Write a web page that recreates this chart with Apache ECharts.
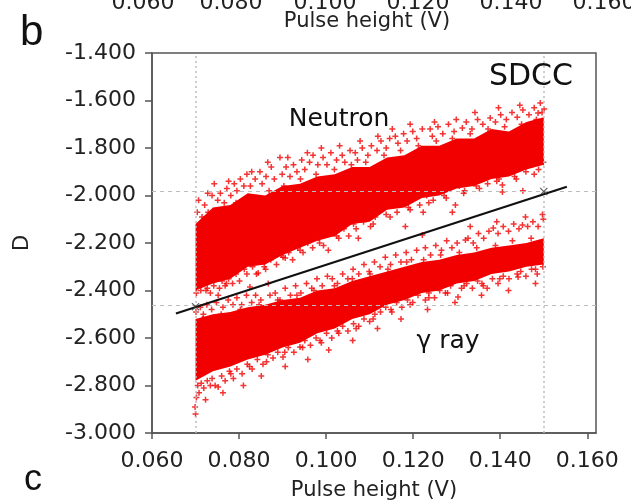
<!DOCTYPE html>
<html><head><meta charset="utf-8">
<script src="https://cdn.jsdelivr.net/npm/echarts@6/dist/echarts.min.js"></script>
<style>html,body{margin:0;padding:0;background:#fff}#c{width:631px;height:502px}</style>
</head><body><div id="c"></div>
<script>
// ---- data ----
const xTickLabels = [0.060, 0.080, 0.100, 0.120, 0.140, 0.160];
const yTickLabels = [-3.0, -2.8, -2.6, -2.4, -2.2, -2.0, -1.8, -1.6, -1.4];
const prevPanelTicks = ['0.060', '0.080', '0.100', '0.120', '0.140', '0.160'];

// dense cores of the two clusters (upper/lower envelope per pulse height)
const bandX = [0.070,0.074,0.078,0.082,0.086,0.090,0.094,0.098,0.102,0.106,0.110,0.114,0.118,0.122,0.126,0.130,0.134,0.138,0.142,0.146,0.150];
const neutronUpper = [-2.12,-2.05,-2.04,-1.99,-2.00,-1.96,-1.95,-1.92,-1.91,-1.88,-1.88,-1.84,-1.83,-1.79,-1.79,-1.76,-1.76,-1.72,-1.73,-1.69,-1.67];
const neutronLower = [-2.40,-2.37,-2.35,-2.30,-2.29,-2.25,-2.22,-2.19,-2.17,-2.12,-2.11,-2.06,-2.05,-2.01,-2.00,-1.97,-1.96,-1.93,-1.92,-1.89,-1.87];
const gammaUpper   = [-2.52,-2.50,-2.49,-2.47,-2.46,-2.44,-2.43,-2.40,-2.39,-2.36,-2.34,-2.32,-2.30,-2.28,-2.27,-2.25,-2.24,-2.22,-2.21,-2.20,-2.18];
const gammaLower   = [-2.78,-2.74,-2.72,-2.69,-2.67,-2.64,-2.62,-2.58,-2.56,-2.52,-2.50,-2.46,-2.44,-2.41,-2.40,-2.37,-2.36,-2.33,-2.32,-2.30,-2.29];

// scattered events around the cores
const neutronPoints = [
 [0.0704,-2.07],[0.0707,-2.02],[0.0715,-2.09],[0.0721,-2.04],[0.0729,-2.07],[0.0738,-2.00],[0.0743,-1.95],[0.0751,-2.02],[0.0757,-1.99],[0.0766,-2.03],
 [0.0772,-1.97],[0.0781,-2.00],[0.0789,-1.95],[0.0795,-1.98],[0.0803,-1.93],[0.0811,-1.96],[0.0818,-1.91],[0.0826,-1.96],[0.0837,-1.93],[0.0848,-1.90],
 [0.0853,-1.95],[0.0862,-1.92],[0.0874,-1.88],[0.0881,-1.93],[0.0894,-1.84],[0.0899,-1.91],[0.0908,-1.88],[0.0917,-1.92],[0.0925,-1.87],[0.0933,-1.90],
 [0.0944,-1.85],[0.0951,-1.89],[0.0962,-1.86],[0.0970,-1.83],[0.0981,-1.87],[0.0993,-1.84],[0.1002,-1.87],[0.1011,-1.82],[0.1024,-1.85],[0.1037,-1.83],
 [0.1043,-1.86],[0.1055,-1.81],[0.1067,-1.82],[0.1072,-1.85],[0.1083,-1.80],[0.1096,-1.83],[0.1104,-1.79],[0.1117,-1.81],[0.1126,-1.77],[0.1138,-1.80],
 [0.1146,-1.76],[0.1159,-1.75],[0.1165,-1.78],[0.1178,-1.74],[0.1186,-1.77],[0.1199,-1.73],[0.1208,-1.76],[0.1221,-1.72],[0.1239,-1.72],[0.1244,-1.75],
 [0.1257,-1.71],[0.1268,-1.74],[0.1281,-1.70],[0.1294,-1.73],[0.1313,-1.716],[0.1322,-1.69],[0.1335,-1.72],[0.1348,-1.68],[0.1360,-1.70],[0.1377,-1.674],
 [0.1389,-1.69],[0.1401,-1.66],[0.1414,-1.68],[0.1427,-1.65],[0.1439,-1.67],[0.1452,-1.64],[0.1466,-1.66],[0.1478,-1.63],[0.1487,-1.653],[0.1496,-1.65],
 [0.1501,-1.636],
 [0.0728,-1.99],[0.0776,-1.94],[0.0829,-1.90],[0.0866,-1.86],[0.0912,-1.84],[0.0957,-1.82],[0.0989,-1.80],[0.1031,-1.79],[0.1078,-1.77],[0.1119,-1.75],
 [0.1152,-1.72],[0.1193,-1.70],[0.1249,-1.69],[0.1299,-1.68],[0.1342,-1.65],[0.1396,-1.63],[0.1445,-1.62],[0.1492,-1.61],
 [0.0719,-2.10],[0.0747,-2.07],[0.0793,-2.03],[0.0832,-2.01],[0.0869,-1.98],[0.0903,-1.96],[0.0941,-1.93],[0.0977,-1.91],[0.1019,-1.89],[0.1058,-1.87],
 [0.1091,-1.86],[0.1133,-1.83],[0.1171,-1.81],[0.1212,-1.79],[0.1253,-1.77],[0.1290,-1.76],[0.1331,-1.74],[0.1372,-1.72],[0.1410,-1.71],[0.1449,-1.70],
 [0.1483,-1.68],
 [0.0702,-2.41],[0.0712,-2.40],[0.0727,-2.39],[0.0734,-2.41],[0.0742,-2.38],[0.0755,-2.39],[0.0761,-2.36],[0.0768,-2.38],
 [0.0776,-2.35],[0.0785,-2.37],[0.0793,-2.33],[0.0801,-2.36],[0.0812,-2.31],[0.0825,-2.385],[0.0831,-2.30],[0.0840,-2.33],[0.0844,-2.326],[0.0852,-2.28],
 [0.0861,-2.31],[0.0873,-2.27],[0.0886,-2.29],[0.0897,-2.25],[0.0906,-2.263],[0.0914,-2.24],[0.0923,-2.27],[0.0935,-2.22],[0.0947,-2.24],[0.0958,-2.20],
 [0.0969,-2.22],[0.0982,-2.18],[0.0994,-2.21],[0.1005,-2.23],[0.1016,-2.16],[0.1029,-2.18],[0.1041,-2.14],[0.1052,-2.17],[0.1063,-2.12],[0.1074,-2.18],
 [0.1086,-2.11],[0.1099,-2.08],[0.1102,-2.13],[0.1113,-2.09],[0.1127,-2.06],[0.1138,-2.08],[0.1150,-2.04],[0.1163,-2.07],[0.1175,-2.03],[0.1189,-2.05],
 [0.1202,-2.01],[0.1215,-2.04],[0.1223,-2.07],[0.1231,-2.00],[0.1246,-2.02],[0.1258,-1.98],[0.1271,-2.00],[0.1284,-1.97],[0.1297,-2.04],[0.1306,-1.96],
 [0.1318,-1.98],[0.1331,-1.94],[0.1345,-1.96],[0.1358,-1.93],[0.1371,-1.95],[0.1385,-1.91],[0.1397,-1.93],[0.1405,-1.956],[0.1405,-1.985],[0.1419,-1.90],
 [0.1433,-1.92],[0.1446,-1.88],[0.1459,-1.90],[0.1473,-1.87],[0.1488,-1.89],[0.1499,-1.86],
 [0.1182,-2.13],[0.1290,-2.07],[0.1452,-1.98],
 [0.0724,-2.40],[0.0771,-2.37],[0.0818,-2.33],[0.0858,-2.30],[0.0901,-2.26],[0.0940,-2.23],[0.0985,-2.20],[0.1024,-2.17],[0.1069,-2.14],[0.1108,-2.12],
 [0.1147,-2.09],[0.1193,-2.06],[0.1236,-2.03],[0.1276,-2.01],[0.1316,-1.99],[0.1352,-1.97],[0.1392,-1.94],[0.1437,-1.93],[0.1478,-1.91]
];
const gammaPoints = [
 [0.0701,-2.49],[0.0711,-2.47],[0.0718,-2.50],[0.0726,-2.46],[0.0737,-2.48],[0.0748,-2.45],[0.0752,-2.42],[0.0763,-2.47],[0.0775,-2.44],
 [0.0786,-2.46],[0.0795,-2.43],[0.0806,-2.46],[0.0817,-2.42],[0.0829,-2.45],[0.0838,-2.42],[0.0850,-2.44],[0.0867,-2.37],[0.0871,-2.42],[0.0883,-2.41],
 [0.0894,-2.44],[0.0906,-2.39],[0.0918,-2.42],[0.0930,-2.38],[0.0942,-2.41],[0.0955,-2.37],[0.0967,-2.39],[0.0979,-2.35],[0.0991,-2.38],[0.1003,-2.34],
 [0.1014,-2.35],[0.1026,-2.37],[0.1038,-2.33],[0.1050,-2.35],[0.1062,-2.31],[0.1075,-2.33],[0.1087,-2.29],[0.1099,-2.32],[0.1111,-2.28],[0.1124,-2.30],
 [0.1136,-2.26],[0.1148,-2.29],[0.1160,-2.25],[0.1172,-2.28],[0.1184,-2.24],[0.1196,-2.27],[0.1208,-2.23],[0.1221,-2.166],[0.1228,-2.22],[0.1240,-2.25],
 [0.1252,-2.21],[0.1265,-2.23],[0.1277,-2.19],[0.1289,-2.22],[0.1301,-2.20],[0.1320,-2.187],[0.1326,-2.18],[0.1338,-2.20],[0.1350,-2.16],[0.1362,-2.18],
 [0.1374,-2.15],[0.1384,-2.137],[0.1395,-2.16],[0.1407,-2.13],[0.1419,-2.15],[0.1431,-2.12],[0.1443,-2.14],[0.1451,-2.124],[0.1463,-2.13],[0.1475,-2.11],
 [0.1487,-2.13],[0.1499,-2.10],
 [0.1331,-2.13],[0.1392,-2.11],[0.1458,-2.09],[0.1497,-2.08],
 [0.0716,-2.52],[0.0759,-2.50],[0.0803,-2.48],[0.0846,-2.46],[0.0889,-2.44],[0.0933,-2.42],[0.0972,-2.40],[0.1019,-2.38],[0.1060,-2.35],[0.1101,-2.33],
 [0.1142,-2.31],[0.1185,-2.28],[0.1224,-2.27],[0.1263,-2.25],[0.1306,-2.24],[0.1346,-2.22],[0.1389,-2.21],[0.1428,-2.19],[0.1471,-2.18],
 [0.0699,-2.89],[0.0700,-2.92],[0.0702,-2.85],[0.0705,-2.80],[0.0708,-2.83],[0.0713,-2.79],[0.0719,-2.81],[0.0727,-2.78],[0.0734,-2.80],[0.0745,-2.80],
 [0.0752,-2.806],[0.0760,-2.76],[0.0768,-2.78],[0.0778,-2.74],[0.0787,-2.77],[0.0795,-2.73],[0.0807,-2.75],[0.0819,-2.71],[0.0830,-2.73],[0.0842,-2.69],
 [0.0855,-2.71],[0.0866,-2.67],[0.0878,-2.684],[0.0889,-2.66],[0.0901,-2.68],[0.0913,-2.64],[0.0926,-2.66],[0.0940,-2.638],[0.0951,-2.61],[0.0964,-2.63],
 [0.0977,-2.60],[0.0989,-2.62],[0.1001,-2.58],[0.1013,-2.60],[0.1026,-2.57],[0.1038,-2.55],[0.1050,-2.57],[0.1063,-2.54],[0.1075,-2.55],[0.1087,-2.52],
 [0.1100,-2.53],[0.1112,-2.50],[0.1125,-2.49],[0.1137,-2.47],[0.1149,-2.48],[0.1162,-2.45],[0.1174,-2.47],[0.1187,-2.44],[0.1199,-2.45],[0.1211,-2.42],
 [0.1228,-2.44],[0.1236,-2.41],[0.1249,-2.43],[0.1261,-2.40],[0.1274,-2.41],[0.1286,-2.38],[0.1303,-2.427],[0.1311,-2.39],[0.1323,-2.37],[0.1336,-2.39],
 [0.1348,-2.36],[0.1361,-2.38],[0.1370,-2.39],[0.1382,-2.35],[0.1395,-2.37],[0.1407,-2.34],[0.1420,-2.35],[0.1441,-2.343],[0.1447,-2.32],[0.1459,-2.34],
 [0.1472,-2.31],[0.1485,-2.33],[0.1498,-2.30],
 [0.0723,-2.86],[0.0763,-2.83],[0.0810,-2.80],[0.0851,-2.76],[0.0906,-2.72],[0.0958,-2.69],[0.1006,-2.65],[0.1061,-2.61],[0.1118,-2.56],[0.1172,-2.52],
 [0.1233,-2.48],[0.1296,-2.45],[0.1357,-2.42],[0.1419,-2.40],[0.1481,-2.37],
 [0.0738,-2.77],[0.0781,-2.75],[0.0824,-2.72],[0.0863,-2.70],[0.0905,-2.66],[0.0946,-2.64],[0.0986,-2.61],[0.1029,-2.58],[0.1069,-2.56],[0.1108,-2.52],
 [0.1151,-2.49],[0.1193,-2.46],[0.1236,-2.43],[0.1279,-2.41],[0.1317,-2.38],[0.1358,-2.37],[0.1399,-2.35],[0.1439,-2.33],[0.1481,-2.31]
];

// discrimination line and its anchor points
const boundaryX = [0.0655, 0.1553];
const boundaryY = [-2.497, -1.963];
const anchorX = [0.070, 0.150];
const anchorY = [-2.468, -1.983];
const guideX = [0.070, 0.150];
const guideY = [-1.982, -2.465];

// ---- chart ----
const FONT = 'DejaVu Sans';
const RED = '#f20000';
const plusSym = 'path://M3,0H5V3H8V5H5V8H3V5H0V3H3Z';
const crossSym = 'path://M1,0L5,4L9,0L10,1L6,5L10,9L9,10L5,6L1,10L0,9L4,5L0,1Z';

function band(up, lo) {
  return {
    type: 'custom', data: [0], silent: true, z: 2, clip: true,
    renderItem: function (params, api) {
      const pts = [];
      for (let i = 0; i < bandX.length; i++) pts.push(api.coord([bandX[i], up[i]]));
      for (let i = bandX.length - 1; i >= 0; i--) pts.push(api.coord([bandX[i], lo[i]]));
      return { type: 'polygon', shape: { points: pts }, style: { fill: RED } };
    }
  };
}

const chart = echarts.init(document.getElementById('c'), null, { renderer: 'canvas' });
chart.setOption({
  backgroundColor: '#fff',
  animation: false,
  grid: { left: 152, right: 35, top: 53, bottom: 69, outerBoundsMode: 'none', containLabel: false,
          show: true, borderColor: '#555', borderWidth: 1.5, backgroundColor: 'transparent' },
  xAxis: {
    type: 'value', min: 0.06, max: 0.162, interval: 0.02,
    name: 'Pulse height (V)', nameLocation: 'middle', nameGap: 47,
    nameTextStyle: { fontFamily: FONT, fontSize: 21, color: '#222' },
    axisLine: { lineStyle: { color: '#555', width: 1.5 } },
    axisTick: { show: true, inside: false, length: 6, customValues: xTickLabels, lineStyle: { color: '#555', width: 1.5 } },
    axisLabel: { customValues: xTickLabels, margin: 17, fontFamily: FONT, fontSize: 22, color: '#222', formatter: v => v.toFixed(3) },
    splitLine: { show: false }
  },
  yAxis: {
    type: 'value', min: -3.0, max: -1.4, interval: 0.2,
    name: 'D', nameLocation: 'middle', nameGap: 119,
    nameTextStyle: { fontFamily: FONT, fontSize: 21, color: '#222' },
    axisLine: { lineStyle: { color: '#555', width: 1.5 } },
    axisTick: { show: true, inside: false, length: 7, customValues: yTickLabels, lineStyle: { color: '#555', width: 1.5 } },
    axisLabel: { customValues: yTickLabels, margin: 16, fontFamily: FONT, fontSize: 22, color: '#222', formatter: v => v.toFixed(3) },
    splitLine: { show: false }
  },
  series: [
    {
      type: 'scatter', data: [], z: 1, silent: true,
      markLine: {
        silent: true, symbol: ['none', 'none'], label: { show: false }, animation: false,
        data: [
          { xAxis: guideX[0], lineStyle: { type: [2, 3], color: '#bdbdbd', width: 1.5 } },
          { xAxis: guideX[1], lineStyle: { type: [2, 3], color: '#bdbdbd', width: 1.5 } },
          { yAxis: guideY[0], lineStyle: { type: [4, 4], color: '#bdbdbd', width: 1.2 } },
          { yAxis: guideY[1], lineStyle: { type: [4, 4], color: '#bdbdbd', width: 1.2 } }
        ]
      }
    },
    band(neutronUpper, neutronLower),
    band(gammaUpper, gammaLower),
    { type: 'scatter', data: neutronPoints, symbol: plusSym, symbolSize: 6, itemStyle: { color: RED }, z: 3, silent: true },
    { type: 'scatter', data: gammaPoints, symbol: plusSym, symbolSize: 6, itemStyle: { color: RED }, z: 3, silent: true },
    {
      type: 'line', data: boundaryX.map((x, i) => [x, boundaryY[i]]), showSymbol: false, symbol: 'none',
      lineStyle: { color: '#111', width: 2.2 }, z: 5, silent: true
    },
    {
      type: 'scatter', data: anchorX.map((x, i) => [x, anchorY[i]]), symbol: crossSym, symbolSize: 8,
      itemStyle: { color: '#333' }, z: 6, silent: true
    }
  ],
  graphic: [
    { type: 'text', x: 20, y: 33, style: { text: 'b', font: '42px "Liberation Sans"', fill: '#111', align: 'left', verticalAlign: 'middle' } },
    { type: 'text', x: 24, y: 480, style: { text: 'c', font: '36px "Liberation Sans"', fill: '#111', align: 'left', verticalAlign: 'middle' } },
    { type: 'text', x: 367, y: 22, style: { text: 'Pulse height (V)', font: '21px "DejaVu Sans"', fill: '#222', align: 'center', verticalAlign: 'middle' } },
    { type: 'text', x: 531, y: 77, style: { text: 'SDCC', font: '30px "DejaVu Sans"', fill: '#111', align: 'center', verticalAlign: 'middle' } },
    { type: 'text', x: 339, y: 119, style: { text: 'Neutron', font: '25px "DejaVu Sans"', fill: '#111', align: 'center', verticalAlign: 'middle' } },
    { type: 'text', x: 448, y: 341, style: { text: 'γ ray', font: '25px "DejaVu Sans"', fill: '#111', align: 'center', verticalAlign: 'middle' } }
  ].concat(prevPanelTicks.map((t, i) => ({
    type: 'text', x: [143, 231, 325, 418, 511, 604][i], y: 3,
    style: { text: t, font: '22px "DejaVu Sans"', fill: '#222', align: 'center', verticalAlign: 'middle' }
  })))
});
</script></body></html>
